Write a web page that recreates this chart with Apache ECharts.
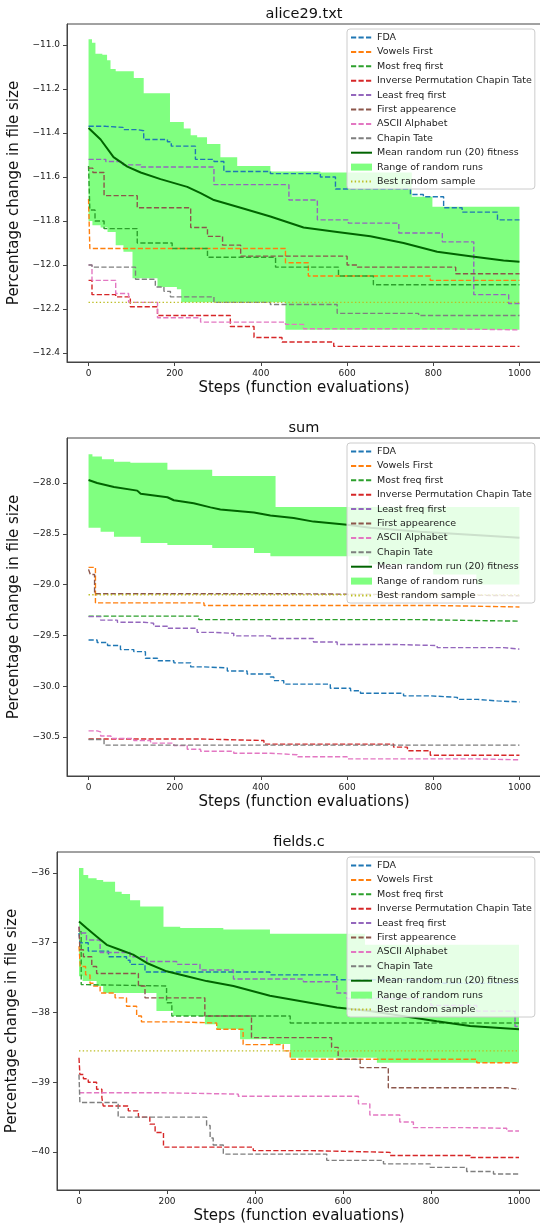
<!DOCTYPE html>
<html>
<head>
<meta charset="utf-8">
<script src="https://cdn.jsdelivr.net/npm/echarts@6/dist/echarts.min.js"></script>
<style>
  html, body { margin: 0; padding: 0; background: #fff; }
  #chart { width: 540px; height: 1228px; }
</style>
</head>
<body>
<div id="chart"></div>
<script>
// ---- data (step, value) ----
const xTicks = [0, 200, 400, 600, 800, 1000];

// alice29.txt
const aTicks = [-12.4, -12.2, -12.0, -11.8, -11.6, -11.4, -11.2, -11.0];
const aFDA = [[0,-11.37],[40,-11.375],[80,-11.385],[113,-11.39],[128,-11.43],[183,-11.44],[192,-11.46],[248,-11.52],[291,-11.53],[314,-11.575],[422,-11.585],[538,-11.60],[573,-11.655],[747,-11.68],[777,-11.69],[824,-11.74],[867,-11.76],[949,-11.795],[1000,-11.795]];
const aVowels = [[0,-11.70],[3,-11.925],[457,-11.99],[510,-12.05],[793,-12.07],[1000,-12.07]];
const aMost = [[0,-11.55],[3,-11.75],[15,-11.80],[36,-11.835],[113,-11.90],[194,-11.925],[276,-11.965],[434,-12.01],[580,-12.05],[661,-12.09],[1000,-12.09]];
const aInv = [[0,-12.07],[8,-12.135],[63,-12.145],[97,-12.19],[160,-12.23],[329,-12.28],[384,-12.33],[449,-12.35],[569,-12.37],[1000,-12.37]];
const aLeast = [[0,-11.52],[40,-11.53],[80,-11.545],[121,-11.555],[291,-11.635],[465,-11.705],[531,-11.795],[603,-11.81],[720,-11.855],[821,-11.895],[894,-12.135],[975,-12.175],[1000,-12.175]];
const aFirst = [[0,-11.56],[10,-11.58],[36,-11.685],[113,-11.74],[237,-11.83],[276,-11.87],[311,-11.91],[353,-11.96],[600,-12.0],[624,-12.01],[852,-12.04],[1000,-12.04]];
const aASCII = [[0,-12.0],[8,-12.07],[63,-12.13],[93,-12.17],[160,-12.24],[260,-12.26],[457,-12.27],[499,-12.29],[821,-12.295],[1000,-12.295]];
const aChapin = [[0,-12.0],[8,-12.01],[109,-12.065],[155,-12.10],[175,-12.12],[190,-12.145],[291,-12.17],[422,-12.18],[577,-12.22],[766,-12.23],[1000,-12.23]];
const aMean = [[0,-11.378],[28,-11.43],[58,-11.51],[90,-11.553],[121,-11.58],[167,-11.61],[229,-11.645],[260,-11.674],[291,-11.705],[353,-11.74],[422,-11.78],[499,-11.83],[577,-11.85],[654,-11.87],[731,-11.90],[809,-11.94],[886,-11.96],[963,-11.98],[1000,-11.985]];
const aUpper = [[0,-10.974],[8,-10.99],[16,-11.04],[32,-11.045],[43,-11.07],[51,-11.11],[63,-11.12],[105,-11.15],[128,-11.22],[189,-11.35],[221,-11.38],[237,-11.41],[252,-11.42],[275,-11.45],[306,-11.51],[345,-11.55],[422,-11.575],[538,-11.58],[750,-11.69],[798,-11.735],[1000,-11.735]];
const aLower = [[0,-11.80],[9,-11.82],[28,-11.83],[44,-11.85],[63,-11.91],[81,-11.94],[102,-12.06],[160,-12.10],[205,-12.11],[215,-12.17],[457,-12.295],[1000,-12.295]];
const aBest = -12.17;

// sum
const sTicks = [-30.5, -30.0, -29.5, -29.0, -28.5, -28.0];
const sFDA = [[0,-29.545],[20,-29.57],[44,-29.60],[74,-29.64],[105,-29.66],[132,-29.725],[160,-29.75],[198,-29.77],[237,-29.81],[268,-29.82],[322,-29.85],[368,-29.88],[422,-29.91],[430,-29.945],[453,-29.98],[561,-30.02],[608,-30.045],[631,-30.07],[731,-30.095],[793,-30.11],[856,-30.13],[902,-30.145],[949,-30.155],[1000,-30.155]];
const sVowels = [[0,-28.83],[16,-29.18],[268,-29.205],[793,-29.22],[1000,-29.22]];
const sMost = [[0,-29.31],[256,-29.345],[766,-29.36],[1000,-29.36]];
const sInv = [[0,-30.52],[260,-30.535],[407,-30.57],[708,-30.60],[740,-30.635],[793,-30.68],[1000,-30.68]];
const sLeast = [[0,-29.315],[28,-29.35],[67,-29.37],[128,-29.38],[151,-29.41],[183,-29.43],[252,-29.47],[291,-29.48],[337,-29.505],[422,-29.53],[522,-29.565],[577,-29.59],[716,-29.60],[809,-29.62],[963,-29.635],[1000,-29.635]];
const sFirst = [[0,-28.85],[4,-28.90],[14,-29.09],[460,-29.10],[800,-29.11],[1000,-29.11]];
const sASCII = [[0,-30.44],[20,-30.45],[28,-30.49],[52,-30.515],[105,-30.535],[144,-30.56],[198,-30.585],[229,-30.62],[260,-30.64],[337,-30.66],[422,-30.675],[484,-30.695],[600,-30.715],[900,-30.725],[1000,-30.725]];
const sChapin = [[0,-30.525],[36,-30.58],[1000,-30.58]];
const sMean = [[0,-27.97],[20,-28.0],[59,-28.04],[113,-28.075],[121,-28.105],[183,-28.14],[198,-28.17],[244,-28.20],[283,-28.24],[306,-28.26],[384,-28.29],[422,-28.32],[476,-28.345],[522,-28.38],[600,-28.41],[654,-28.44],[770,-28.48],[886,-28.51],[1000,-28.54]];
const sUpper = [[0,-27.716],[9,-27.74],[31,-27.765],[59,-27.79],[97,-27.80],[183,-27.87],[287,-27.93],[434,-28.235],[1000,-28.235]];
const sLower = [[0,-28.44],[28,-28.48],[59,-28.53],[121,-28.59],[183,-28.61],[287,-28.64],[384,-28.69],[422,-28.72],[650,-28.80],[800,-28.90],[900,-29.0],[1000,-29.0]];
const sBest = -29.10;

// fields.c
const fTicks = [-40, -39, -38, -37, -36];
const fFDA = [[0,-36.86],[2,-37.0],[21,-37.12],[67,-37.2],[108,-37.25],[116,-37.31],[150,-37.42],[434,-37.46],[586,-37.53],[800,-37.58],[1000,-37.58]];
const fVowels = [[0,-37.05],[3,-37.34],[15,-37.46],[25,-37.58],[33,-37.62],[48,-37.72],[82,-37.79],[108,-37.91],[131,-38.05],[142,-38.135],[222,-38.15],[313,-38.24],[373,-38.46],[464,-38.55],[480,-38.67],[904,-38.72],[1000,-38.72]];
const fMost = [[0,-36.84],[5,-37.60],[10,-37.62],[199,-37.86],[211,-38.05],[480,-38.15],[1000,-38.15]];
const fInv = [[0,-38.65],[2,-38.89],[10,-38.95],[21,-39.0],[40,-39.10],[52,-39.22],[55,-39.34],[112,-39.41],[135,-39.50],[161,-39.60],[173,-39.72],[192,-39.93],[396,-39.98],[521,-40.005],[707,-40.05],[889,-40.08],[1000,-40.08]];
const fLeast = [[0,-36.77],[2,-36.86],[17,-36.96],[48,-37.14],[116,-37.20],[154,-37.27],[222,-37.31],[275,-37.39],[351,-37.52],[510,-37.56],[586,-37.72],[609,-37.80],[800,-37.90],[904,-37.98],[991,-38.20],[1000,-38.20]];
const fFirst = [[0,-36.77],[2,-37.10],[10,-37.20],[29,-37.34],[40,-37.44],[135,-37.62],[150,-37.79],[286,-38.05],[392,-38.36],[574,-38.50],[589,-38.67],[639,-38.79],[703,-39.08],[972,-39.10],[1000,-39.10]];
const fASCII = [[0,-39.15],[177,-39.17],[362,-39.20],[635,-39.31],[661,-39.47],[729,-39.57],[760,-39.65],[873,-39.66],[972,-39.70],[1000,-39.70]];
const fChapin = [[0,-38.89],[2,-39.29],[89,-39.50],[290,-39.62],[298,-39.80],[305,-39.90],[328,-40.03],[563,-40.12],[692,-40.17],[798,-40.22],[881,-40.28],[942,-40.315],[1000,-40.315]];
const fMean = [[0,-36.695],[17,-36.79],[40,-36.91],[63,-37.03],[93,-37.10],[123,-37.17],[154,-37.29],[199,-37.41],[245,-37.48],[290,-37.55],[351,-37.62],[434,-37.76],[586,-37.93],[661,-37.98],[813,-38.125],[889,-38.195],[1000,-38.24]];
const fUpper = [[0,-35.93],[10,-36.03],[21,-36.075],[40,-36.10],[55,-36.125],[82,-36.27],[97,-36.30],[116,-36.39],[139,-36.48],[192,-36.77],[230,-36.79],[328,-36.81],[434,-36.87],[650,-37.03],[1000,-37.03]];
const fLower = [[0,-37.48],[8,-37.55],[40,-37.62],[55,-37.72],[176,-37.98],[214,-38.05],[286,-38.17],[313,-38.24],[366,-38.385],[434,-38.45],[480,-38.65],[677,-38.72],[1000,-38.72]];
const fBest = -38.55;

// ---- styling ----
const FONT = "DejaVu Sans";
const names = ["FDA", "Vowels First", "Most freq first", "Inverse Permutation Chapin Tate",
  "Least freq first", "First appearence", "ASCII Alphabet", "Chapin Tate"];
const colors = ["#1f77b4", "#ff7f0e", "#2ca02c", "#d62728", "#9467bd", "#8c564b", "#e377c2", "#7f7f7f"];
const MEAN = "Mean random run (20) fitness";
const RANGE = "Range of random runs";
const BEST = "Best random sample";
const GREEN = "#80ff80";
const DASH = [5.2, 2.3];

const panels = [
  { title: "alice29.txt", lines: [aFDA, aVowels, aMost, aInv, aLeast, aFirst, aASCII, aChapin],
    mean: aMean, upper: aUpper, lower: aLower, best: aBest, ticks: aTicks, dec: 1,
    min: -12.441, max: -10.905, top: 24, left: 67, width: 474, nameGap: 42 },
  { title: "sum", lines: [sFDA, sVowels, sMost, sInv, sLeast, sFirst, sASCII, sChapin],
    mean: sMean, upper: sUpper, lower: sLower, best: sBest, ticks: sTicks, dec: 1,
    min: -30.884, max: -27.557, top: 438, left: 67, width: 474, nameGap: 42 },
  { title: "fields.c", lines: [fFDA, fVowels, fMost, fInv, fLeast, fFirst, fASCII, fChapin],
    mean: fMean, upper: fUpper, lower: fLower, best: fBest, ticks: fTicks, dec: 0,
    min: -40.545, max: -35.699, top: 852, left: 57, width: 484, nameGap: 32 },
];
const PLOT_H = 338;

function fmt(dec) {
  return (v) => (v < 0 ? "\u2212" : "") + Math.abs(v).toFixed(dec);
}

// change points -> corner points of a step ("post") line
function stepCorners(arr) {
  const out = [];
  arr.forEach((d, j) => {
    out.push([d[0], d[1]]);
    if (j + 1 < arr.length) out.push([arr[j + 1][0], d[1]]);
  });
  return out;
}

const grids = [], xAxes = [], yAxes = [], legends = [], graphics = [], series = [];
const legendData = names.concat([
  MEAN,
  { name: RANGE, icon: "rect", itemStyle: { color: GREEN, opacity: 1 } },
  BEST,
]);

panels.forEach((p, i) => {
  grids.push({
    left: p.left, top: p.top, width: p.width, height: PLOT_H,
    show: true, borderColor: "#444", borderWidth: 1, backgroundColor: "transparent",
    containLabel: false, outerBoundsMode: "none",
  });
  xAxes.push({
    type: "value", gridIndex: i, min: -50, max: 1050, z: 10,
    axisLine: { show: true, onZero: false, lineStyle: { color: "#444" } },
    axisTick: { show: true, length: 4, lineStyle: { color: "#444" }, customValues: xTicks },
    axisLabel: { customValues: xTicks, formatter: (v) => String(v), fontSize: 9, fontFamily: FONT, color: "#222", margin: 7 },
    splitLine: { show: false },
    name: "Steps (function evaluations)", nameLocation: "middle", nameGap: 19,
    nameTextStyle: { fontSize: 15, fontFamily: FONT, color: "#111" },
  });
  yAxes.push({
    type: "value", gridIndex: i, min: p.min, max: p.max, z: 10,
    axisLine: { show: true, onZero: false, lineStyle: { color: "#444" } },
    axisTick: { show: true, length: 4, lineStyle: { color: "#444" }, customValues: p.ticks },
    axisLabel: { customValues: p.ticks, formatter: fmt(p.dec), fontSize: 9, fontFamily: FONT, color: "#222", margin: 7 },
    splitLine: { show: false },
    name: "Percentage change in file size", nameLocation: "middle", nameRotate: 90, nameGap: p.nameGap,
    nameTextStyle: { fontSize: 15, fontFamily: FONT, color: "#111" },
  });
  legends.push({
    orient: "vertical", left: 347, top: p.top + 5,
    itemWidth: 21, itemHeight: 7, itemGap: 3.4, padding: [3, 3, 2, 3],
    backgroundColor: "rgba(255,255,255,0.8)", borderColor: "#cccccc", borderWidth: 1, borderRadius: 3,
    itemStyle: { opacity: 0 },
    textStyle: { fontFamily: FONT, fontSize: 9.5, color: "#222", lineHeight: 11 },
    selectedMode: false, data: legendData,
  });
  graphics.push({
    type: "text", x: p.left + p.width / 2, y: p.top - 2,
    style: { text: p.title, font: '14.5px "DejaVu Sans"', fill: "#111",
      align: "center", verticalAlign: "bottom", textAlign: "center", textVerticalAlign: "bottom" },
  });

  const base = { type: "line", xAxisIndex: i, yAxisIndex: i, symbol: "none", silent: true, animation: false };

  // range band: polygon between the upper and lower step edges
  const upper = p.upper, lower = p.lower;
  series.push({
    type: "custom", name: RANGE, xAxisIndex: i, yAxisIndex: i, silent: true, animation: false,
    color: GREEN, itemStyle: { color: GREEN },
    data: [[upper[0][0], upper[0][1]]],
    renderItem: (params, api) => {
      const pts = stepCorners(upper).concat(stepCorners(lower).reverse()).map((d) => api.coord(d));
      return { type: "polygon", shape: { points: pts }, style: { fill: GREEN } };
    },
  });
  p.lines.forEach((d, k) => {
    series.push(Object.assign({}, base, {
      name: names[k], data: d, step: "end", color: colors[k],
      lineStyle: { color: colors[k], width: 1.4, type: DASH },
    }));
  });
  series.push(Object.assign({}, base, {
    name: MEAN, data: p.mean, color: "#006400",
    lineStyle: { color: "#006400", width: 2 },
  }));
  series.push(Object.assign({}, base, {
    name: BEST, data: [[0, p.best], [1000, p.best]], color: "#bcbd22",
    lineStyle: { color: "#bcbd22", width: 1.4, type: [1.4, 2.3] },
  }));
});

const chart = echarts.init(document.getElementById("chart"), null, { renderer: "canvas" });
chart.setOption({
  animation: false,
  backgroundColor: "#fff",
  grid: grids,
  xAxis: xAxes,
  yAxis: yAxes,
  legend: legends,
  graphic: graphics,
  series: series,
});
</script>
</body>
</html>
